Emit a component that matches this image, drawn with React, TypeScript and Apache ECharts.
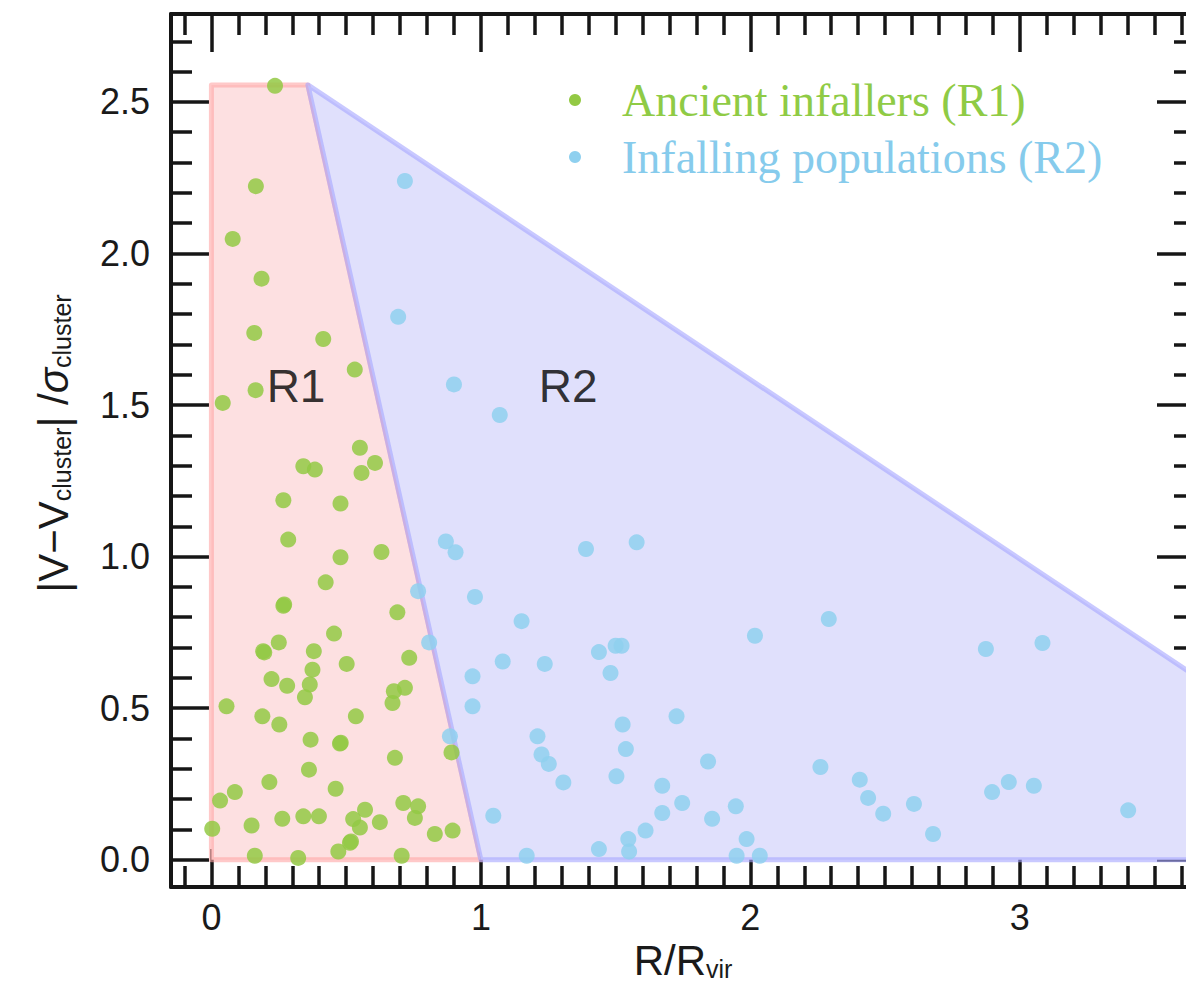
import React, { useEffect, useRef } from "react";
import * as echarts from "echarts";

// Axis ranges (R/Rvir and |V - Vcluster| / sigma)
const xRange = [-0.15, 3.65];
const yRange = [-0.09, 2.79];

const seriesNames = ["Ancient infallers (R1)", "Infalling populations (R2)"];

// Ancient infallers (R1): [R/Rvir, |V-Vc|/sigma]
const ancientInfallers = [
  [0.236, 2.553], [0.165, 2.222], [0.079, 2.048], [0.186, 1.917], [0.159, 1.738],
  [0.415, 1.718], [0.532, 1.617], [0.164, 1.549], [0.042, 1.507], [0.551, 1.359],
  [0.607, 1.309], [0.341, 1.298], [0.384, 1.287], [0.557, 1.276], [0.267, 1.186],
  [0.479, 1.175], [0.285, 1.056], [0.479, 0.998], [0.631, 1.015], [0.424, 0.915],
  [0.267, 0.838], [0.27, 0.842], [0.690, 0.816], [0.455, 0.746], [0.250, 0.717],
  [0.192, 0.688], [0.196, 0.684], [0.380, 0.688], [0.734, 0.666], [0.375, 0.627],
  [0.502, 0.646], [0.223, 0.596], [0.281, 0.574], [0.365, 0.578], [0.347, 0.536],
  [0.677, 0.556], [0.718, 0.567], [0.672, 0.517], [0.056, 0.506], [0.189, 0.473],
  [0.252, 0.446], [0.536, 0.473], [0.368, 0.396], [0.477, 0.383], [0.48, 0.386],
  [0.891, 0.354], [0.681, 0.336], [0.362, 0.297], [0.215, 0.256], [0.461, 0.234],
  [0.087, 0.223], [0.032, 0.195], [0.712, 0.187], [0.767, 0.176], [0.570, 0.165],
  [0.263, 0.135], [0.341, 0.143], [0.399, 0.143], [0.526, 0.134], [0.625, 0.124],
  [0.755, 0.138], [0.149, 0.113], [0.003, 0.102], [0.551, 0.106], [0.829, 0.085],
  [0.895, 0.096], [0.514, 0.056], [0.518, 0.06], [0.471, 0.027], [0.161, 0.013],
  [0.322, 0.006], [0.706, 0.013],
];

// Infalling populations (R2)
const infallingPopulations = [
  [0.718, 2.239], [0.693, 1.791], [0.900, 1.568], [1.070, 1.467], [0.870, 1.050],
  [0.906, 1.014], [1.390, 1.025], [1.578, 1.047], [0.767, 0.886], [0.978, 0.867],
  [1.151, 0.787], [0.808, 0.717], [1.081, 0.654], [1.237, 0.646], [1.438, 0.685],
  [1.500, 0.706], [1.522, 0.706], [1.481, 0.616], [2.017, 0.739], [0.969, 0.605],
  [0.969, 0.506], [0.885, 0.407], [1.526, 0.446], [1.726, 0.473], [1.210, 0.407],
  [1.538, 0.365], [1.225, 0.347], [1.252, 0.316], [1.306, 0.255], [1.503, 0.275],
  [1.843, 0.324], [1.673, 0.244], [1.747, 0.187], [1.673, 0.154], [1.946, 0.176],
  [1.858, 0.135], [1.046, 0.145], [1.611, 0.096], [1.547, 0.068], [1.986, 0.068],
  [1.170, 0.013], [1.438, 0.035], [1.550, 0.027], [1.949, 0.013], [2.035, 0.013],
  [2.291, 0.794], [2.874, 0.695], [3.084, 0.715], [2.260, 0.306], [2.406, 0.264],
  [2.437, 0.204], [2.493, 0.152], [2.607, 0.184], [2.678, 0.085], [2.897, 0.223],
  [2.959, 0.256], [3.052, 0.244], [3.402, 0.163],
];

// Region outlines
const regionR1 = [[0, 0], [0, 2.556], [0.358, 2.556], [1, 0]];
const regionR2 = [[0.358, 2.556], [3.65, 0.607], [3.65, 0], [1, 0]];
const regionLabels: [number, number, string][] = [
  [0.314, 1.562, "R1"],
  [1.324, 1.562, "R2"],
];

const INK = "#161616";
const SANS = "Liberation Sans, Arial, Helvetica, sans-serif";
const SERIF = "Liberation Serif, Times New Roman, serif";

function polygonSeries(name: string, pts: number[][], fill: string, stroke: string) {
  return {
    type: "custom",
    name,
    silent: true,
    z: 1,
    clip: true,
    data: [[0, 0]],
    renderItem: (_params: any, api: any) => ({
      type: "polygon",
      shape: { points: pts.map((p) => api.coord(p)) },
      style: { fill, stroke, lineWidth: 5, lineJoin: "round" },
    }),
  };
}

function makeAxis(kind: "x" | "y", mirror: boolean) {
  const isX = kind === "x";
  const range = isX ? xRange : yRange;
  const step = isX ? 1 : 0.5;
  return {
    type: "value",
    position: isX ? (mirror ? "top" : "bottom") : mirror ? "right" : "left",
    min: range[0],
    max: range[1],
    splitNumber: isX ? 4 : 5,
    minInterval: step,
    maxInterval: step,
    axisLine: { show: true, onZero: false, lineStyle: { color: INK, width: 4 } },
    axisTick: { show: true, inside: true, length: 38, lineStyle: { color: INK, width: 3.5 } },
    minorTick: {
      show: true,
      splitNumber: isX ? 10 : 5,
      length: 21,
      lineStyle: { color: INK, width: 3.5 },
    },
    splitLine: { show: false },
    minorSplitLine: { show: false },
    axisLabel: {
      show: !mirror,
      showMinLabel: false,
      showMaxLabel: false,
      fontFamily: SANS,
      fontSize: 36,
      color: "#1a1a1a",
      margin: isX ? 12 : 21,
      formatter: (v: number) => (isX ? String(Math.round(v)) : v.toFixed(1)),
    },
  };
}

export default function App() {
  const ref = useRef<HTMLDivElement>(null);

  useEffect(() => {
    if (!ref.current) return;
    const chart = echarts.init(ref.current, undefined, { renderer: "svg" });

    const xAxisMain: any = makeAxis("x", false);
    xAxisMain.name = "{a|R/R}{s|vir}";
    xAxisMain.nameLocation = "middle";
    xAxisMain.nameGap = 50;
    xAxisMain.nameTextStyle = {
      fontFamily: SANS,
      color: "#1a1a1a",
      rich: {
        a: { fontFamily: SANS, fontSize: 42, color: "#1a1a1a" },
        s: { fontFamily: SANS, fontSize: 25, color: "#1a1a1a", verticalAlign: "bottom" },
      },
    };

    const yAxisMain: any = makeAxis("y", false);
    yAxisMain.name = "{a||V\u2212V}{s|cluster}{a|| /}{g|\u03c3}{s|cluster}";
    yAxisMain.nameLocation = "middle";
    yAxisMain.nameGap = 97;
    yAxisMain.nameTextStyle = {
      fontFamily: SANS,
      color: "#1a1a1a",
      padding: [0, 0, 0, 14],
      rich: {
        a: { fontFamily: SANS, fontSize: 42, color: "#1a1a1a" },
        g: { fontFamily: SANS, fontSize: 42, color: "#1a1a1a", fontStyle: "italic" },
        s: { fontFamily: SANS, fontSize: 25, color: "#1a1a1a", verticalAlign: "bottom" },
      },
    };

    const option: any = {
      animation: false,
      backgroundColor: "#ffffff",
      grid: { left: 171, top: 14, right: 15, bottom: 101, containLabel: false, outerBoundsMode: "none" },
      xAxis: [xAxisMain, makeAxis("x", true)],
      yAxis: [yAxisMain, makeAxis("y", true)],
      legend: {
        data: [
          { name: seriesNames[0], textStyle: { color: "#8fcb45" }, itemStyle: { opacity: 1 } },
          { name: seriesNames[1], textStyle: { color: "#86cbec" }, itemStyle: { opacity: 1 } },
        ],
        orient: "vertical",
        left: 569,
        top: 77,
        padding: 0,
        itemWidth: 12,
        itemHeight: 12,
        itemGap: 11,
        icon: "circle",
        selectedMode: false,
        textStyle: {
          fontFamily: SERIF,
          fontSize: 46,
          lineHeight: 46,
          padding: [0, 0, 0, 36],
        },
      },
      series: [
        polygonSeries("R1 region", regionR1, "#fde0e1", "rgba(255,165,165,0.6)"),
        polygonSeries("R2 region", regionR2, "#e0e0fc", "rgba(165,165,255,0.6)"),
        {
          type: "scatter",
          name: seriesNames[0],
          data: ancientInfallers,
          symbolSize: 16,
          z: 3,
          itemStyle: { color: "#93c944", opacity: 0.85 },
        },
        {
          type: "scatter",
          name: seriesNames[1],
          data: infallingPopulations,
          symbolSize: 16,
          z: 3,
          itemStyle: { color: "#8fd0ef", opacity: 0.85 },
        },
        {
          type: "scatter",
          name: "region labels",
          silent: true,
          z: 4,
          symbolSize: 0,
          data: regionLabels.map(([x, y, t]) => ({ value: [x, y], name: t })),
          label: {
            show: true,
            position: "inside",
            formatter: "{b}",
            fontFamily: SANS,
            fontSize: 46,
            color: "#000",
          },
        },
      ],
    };

    chart.setOption(option);
    return () => chart.dispose();
  }, []);

  return (
    <div
      style={{
        position: "absolute",
        left: 0,
        top: 0,
        width: 1186,
        height: 988,
        overflow: "hidden",
        background: "#fff",
      }}
    >
      <div ref={ref} style={{ width: 1210, height: 988 }} />
    </div>
  );
}
